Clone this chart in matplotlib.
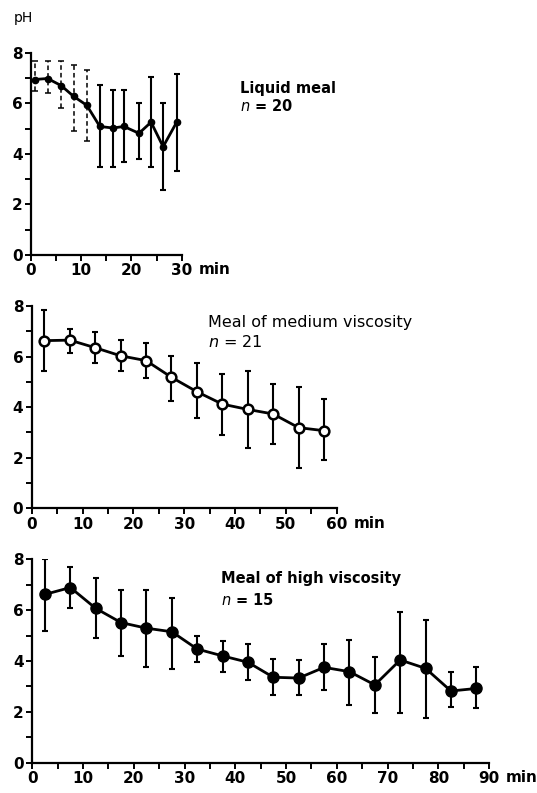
import numpy as np
import matplotlib
matplotlib.use("Agg")
import matplotlib.pyplot as plt

# liquid meal, n = 20
t_liq = [0.7, 3.3, 6.0, 8.5, 11.1, 13.7, 16.3, 18.5, 21.5, 23.9, 26.3, 29.0]
ph_liq = [6.95, 6.99, 6.71, 6.28, 5.93, 5.09, 5.03, 5.09, 4.82, 5.26, 4.29, 5.26]
hi_liq = [7.70, 7.68, 7.68, 7.52, 7.32, 6.75, 6.55, 6.52, 6.02, 7.03, 6.03, 7.16]
lo_liq = [6.50, 6.42, 5.82, 4.93, 4.50, 3.50, 3.50, 3.70, 3.80, 3.50, 2.57, 3.33]

# medium viscosity, n = 21
t_med = [2.5, 7.5, 12.5, 17.5, 22.5, 27.5, 32.5, 37.5, 42.5, 47.5, 52.5, 57.5]
ph_med = [6.63, 6.65, 6.35, 6.03, 5.84, 5.18, 4.61, 4.12, 3.91, 3.73, 3.19, 3.07]
hi_med = [7.84, 7.11, 6.96, 6.65, 6.52, 6.03, 5.73, 5.30, 5.43, 4.90, 4.81, 4.32]
lo_med = [5.43, 6.15, 5.73, 5.43, 5.14, 4.24, 3.58, 2.90, 2.37, 2.53, 1.61, 1.91]

# high viscosity, n = 15
t_high = [2.5, 7.5, 12.5, 17.5, 22.5, 27.5, 32.5, 37.5, 42.5, 47.5, 52.5, 57.5,
          62.5, 67.5, 72.5, 77.5, 82.5, 87.5]
ph_high = [6.62, 6.89, 6.07, 5.51, 5.29, 5.15, 4.47, 4.20, 3.95, 3.36, 3.33, 3.75,
           3.58, 3.06, 4.04, 3.71, 2.82, 2.92]
hi_high = [8.00, 7.69, 7.28, 6.79, 6.79, 6.49, 4.98, 4.80, 4.67, 4.07, 4.04, 4.66,
           4.83, 4.14, 5.94, 5.61, 3.57, 3.75]
lo_high = [5.19, 6.10, 4.89, 4.21, 3.78, 3.69, 3.97, 3.58, 3.25, 2.66, 2.65, 2.86,
           2.27, 1.94, 1.94, 1.74, 2.18, 2.14]

W, H = 537, 793
fig = plt.figure(figsize=(W / 100, H / 100), dpi=100)


def px_axes(x0, x1, y_top, y_bot):
    return fig.add_axes([x0 / W, 1 - y_bot / H, (x1 - x0) / W, (y_bot - y_top) / H])


def style(ax, tmax):
    ax.set_xlim(0, tmax)
    ax.set_ylim(0, 8)
    for s in ["top", "right"]:
        ax.spines[s].set_visible(False)
    for s in ["left", "bottom"]:
        ax.spines[s].set_linewidth(1.6)
    ax.set_yticks([0, 2, 4, 6, 8])
    ax.set_yticks([1, 3, 5, 7], minor=True)
    ax.set_xticks(np.arange(0, tmax + 1, 10))
    ax.set_xticks(np.arange(5, tmax, 10), minor=True)
    ax.tick_params(which="both", direction="out", length=4, width=1.4, pad=2)
    for lab in ax.get_xticklabels() + ax.get_yticklabels():
        lab.set_fontsize(11)
        lab.set_fontweight("bold")
    ax.annotate("min", xy=(tmax, 0), xycoords="data", xytext=(12, -14),
                textcoords="offset points", ha="left", va="baseline",
                fontsize=11, fontweight="bold")


def errs(ph, hi, lo):
    ph = np.array(ph)
    return [ph - np.array(lo), np.array(hi) - ph]


# top panel
ax1 = px_axes(31, 181.7, 53, 255)
style(ax1, 30)
yerr = errs(ph_liq, hi_liq, lo_liq)
eb = ax1.errorbar(t_liq[:5], ph_liq[:5], yerr=[yerr[0][:5], yerr[1][:5]], fmt="none",
                  ecolor="black", elinewidth=1.1, capsize=2, capthick=1.1)
eb[2][0].set_linestyle((0, (3, 2)))
ax1.errorbar(t_liq[5:], ph_liq[5:], yerr=[yerr[0][5:], yerr[1][5:]], fmt="none",
             ecolor="black", elinewidth=1.5, capsize=2, capthick=1.5)
ax1.plot(t_liq, ph_liq, "-o", color="black", lw=2, ms=4.5, clip_on=False)
ax1.text(-3.4, 9.4, "pH", fontsize=10, ha="left", va="center")
fig.text(240 / W, 1 - 88 / H, "Liquid meal", fontsize=10.5, fontweight="bold",
         va="center")
fig.text(240 / W, 1 - 106 / H, "$n$ = 20", fontsize=10.5, fontweight="bold",
         va="center")

# middle panel
ax2 = px_axes(31.7, 336.7, 306, 508.3)
style(ax2, 60)
ax2.errorbar(t_med, ph_med, yerr=errs(ph_med, hi_med, lo_med), fmt="none",
             ecolor="black", elinewidth=1.5, capsize=2, capthick=1.5)
ax2.plot(t_med, ph_med, "-o", color="black", lw=2, ms=7, mfc="white",
         mec="black", mew=1.8)
fig.text(208 / W, 1 - 323 / H, "Meal of medium viscosity", fontsize=11.5, va="center")
fig.text(208 / W, 1 - 342 / H, "$n$ = 21", fontsize=11.5, va="center")

# bottom panel
ax3 = px_axes(32.3, 489, 559.3, 762.7)
style(ax3, 90)
ax3.errorbar(t_high, ph_high, yerr=errs(ph_high, hi_high, lo_high), fmt="none",
             ecolor="black", elinewidth=1.5, capsize=2, capthick=1.5)
ax3.plot(t_high, ph_high, "-o", color="black", lw=2, ms=8)
fig.text(221 / W, 1 - 578 / H, "Meal of high viscosity", fontsize=10.5,
         fontweight="bold", va="center")
fig.text(221 / W, 1 - 600 / H, "$n$ = 15", fontsize=10.5, fontweight="bold", va="center")

fig.savefig("out.png", dpi=100)
